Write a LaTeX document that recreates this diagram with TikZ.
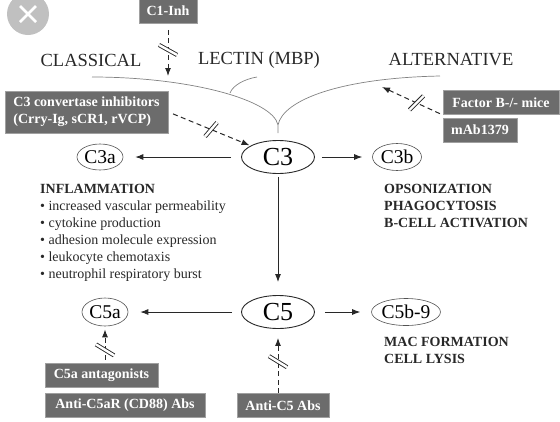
\documentclass[tikz,border=0pt]{standalone}
\usepackage{fontspec}
\setmainfont{Liberation Serif}
\usetikzlibrary{arrows.meta,shapes.geometric}
\definecolor{boxgray}{RGB}{108,108,108}
\definecolor{boxedge}{RGB}{160,160,160}
\definecolor{inkgray}{RGB}{40,40,40}
\definecolor{pathgray}{RGB}{130,130,130}
\definecolor{closegray}{RGB}{192,192,192}
\tikzset{
  inhib/.style={fill=boxgray, draw=boxedge, line width=0.8pt, text=white,
    font=\fontsize{14}{17}\selectfont\bfseries, inner sep=0pt, minimum height=24pt},
  bigmol/.style={ellipse, draw=inkgray, line width=0.9pt, inner sep=0pt,
    minimum width=73pt, minimum height=33pt, font=\fontsize{26}{28}\selectfont},
  frag/.style={ellipse, draw=inkgray!80, line width=0.6pt, inner sep=0pt,
    font=\fontsize{19.5}{21}\selectfont},
  route/.style={font=\fontsize{18.5}{20}\selectfont, text=inkgray},
  effect/.style={font=\fontsize{14}{17}\selectfont, text=inkgray, inner sep=0pt, anchor=base west},
  react/.style={-{Latex[length=8pt,width=6pt]}, line width=0.9pt, draw=inkgray},
  blocked/.style={react, line width=1pt, dash pattern=on 5pt off 3.5pt},
  markline/.style={draw=inkgray, double=white, double distance=2.4pt, line width=0.9pt}
}
\begin{document}
\begin{tikzpicture}[x=1pt,y=-1pt]
\useasboundingbox (0,0) rectangle (560,421);
% close button
\fill[closegray] (28,14) circle (21pt);
\draw[white, line width=2.6pt] (20,6) -- (36,22) (20,22) -- (36,6);

% pathways
\node[route] (classical) at (91,60) {CLASSICAL};
\node[route] (lectin) at (259,60) {LECTIN (MBP)};
\node[route] (altern) at (451,60) {ALTERNATIVE};
\coordinate (junc) at (278,125);
\draw[pathgray, line width=0.7pt] (92,77) .. controls (190,77) and (273,100) .. (junc)
  (440,76) .. controls (340,78) and (283,100) .. (junc) -- ++(0,8);
\draw[pathgray, line width=0.7pt] (257,77) .. controls (245,79) and (233,85) .. (230,93);

% complement components
\node[bigmol] (c3) at (278,157) {C3};
\node[bigmol] (c5) at (278,312) {C5};
\node[frag, minimum width=46pt, minimum height=26pt] (c3a) at (100,157) {C3a};
\node[frag, minimum width=49pt, minimum height=27pt] (c3b) at (397,157) {C3b};
\node[frag, minimum width=46pt, minimum height=28pt] (c5a) at (105,312) {C5a};
\node[frag, minimum width=66pt, minimum height=27pt] (c5b) at (406,312) {C5b-9};

\draw[react, shorten <=10pt, shorten >=12pt] (c3) -- (c3a);
\draw[react, shorten <=7pt, shorten >=10pt] (c3) -- (c3b);
\draw[react, shorten <=3pt, shorten >=13pt] (c3) -- (c5);
\draw[react, shorten <=9pt, shorten >=12pt] (c5) -- (c5a);
\draw[react, shorten <=10pt, shorten >=11pt] (c5) -- (c5b);

% inhibitors
\node[inhib, minimum width=58pt, minimum height=25pt] (c1inh) at (168,11) {C1-Inh};
\node[inhib, minimum width=163pt, minimum height=42pt] (conv) at (86.5,112) {%
\begin{tabular}{@{}l@{}}
  C3 convertase inhibitors \\
  (Crry-Ig, sCR1, rVCP) \\
\end{tabular}};
\node[inhib, minimum width=116pt] (factb) at (501,102.5) {Factor B-/- mice};
\node[inhib, minimum width=74pt] (mab) at (480,130) {mAb1379};
\node[inhib, minimum width=113pt] (c5aant) at (101.5,375) {C5a antagonists};
\node[inhib, minimum width=160pt] (c5ar) at (125,405) {Anti-C5aR (CD88) Abs};
\node[inhib, minimum width=92pt] (antic5) at (283,405.5) {Anti-C5 Abs};

\coordinate (clin) at (168,76);
\coordinate (alin) at (382,87);
\draw[blocked, shorten <=6pt] (c1inh) -- coordinate[pos=.5] (cut1) (clin);
\draw[blocked, shorten <=5pt, shorten >=1pt] (conv.east) -- coordinate[pos=.52] (cut2) (c3);
\draw[blocked, shorten <=3pt] (factb.south west) -- coordinate[pos=.43] (cut3) (alin);
\draw[blocked, shorten <=3pt, shorten >=3pt] (c5a |- c5aant.north) -- coordinate[pos=.35] (cut4) (c5a);
\draw[blocked, shorten >=9pt] (c5 |- antic5.north) -- coordinate[pos=.49] (cut5) (c5);
% cut marks
\draw[markline] (cut1) ++(-9,-5) -- ++(18,10);
\draw[markline] (cut2) ++(-6,7) -- ++(12,-14);
\draw[markline] (cut3) ++(-7,7) -- ++(14,-14);
\draw[markline] (cut4) ++(-9,-5.5) -- ++(18,11);
\draw[markline] (cut5) ++(-9,-5.5) -- ++(18,11);

% effects
\node[effect] (inflam) at (40,193.5) {%
\begin{tabular}[t]{@{}l@{}}
  \textbf{INFLAMMATION} \\
  \textbullet{} increased vascular permeability \\
  \textbullet{} cytokine production \\
  \textbullet{} adhesion molecule expression \\
  \textbullet{} leukocyte chemotaxis \\
  \textbullet{} neutrophil respiratory burst \\
\end{tabular}};
\node[effect] (opson) at (384,193.5) {\bfseries
\begin{tabular}[t]{@{}l@{}}
  OPSONIZATION \\
  PHAGOCYTOSIS \\
  B-CELL ACTIVATION \\
\end{tabular}};
\node[effect] (lysis) at (384,346.5) {\bfseries
\begin{tabular}[t]{@{}l@{}}
  MAC FORMATION \\
  CELL LYSIS \\
\end{tabular}};
\end{tikzpicture}
\end{document}
